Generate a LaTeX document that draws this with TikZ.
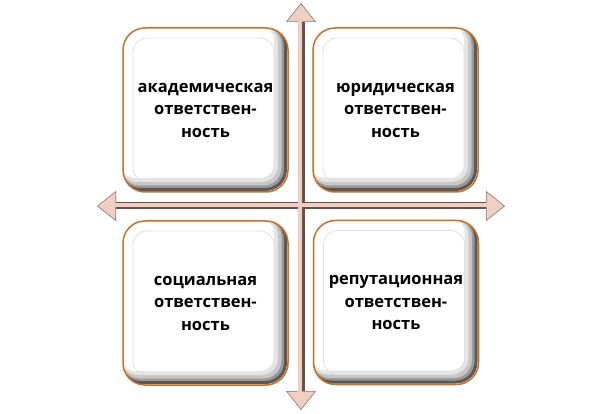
\documentclass[tikz,border=0pt]{standalone}
\usepackage{fontspec}
\setmainfont{Open Sans}
\usetikzlibrary{arrows.meta,positioning}
\definecolor{axislight}{HTML}{EFCFC4}
\definecolor{axisdark}{HTML}{6E4F45}
\definecolor{boxedge}{HTML}{C8702A}
\begin{document}
\begin{tikzpicture}[x=1pt,y=-1pt]
\tikzstyle{axis}=[axisdark, line width=7pt,
  {Triangle[width=30pt,length=19pt,fill=axislight,color=axisdark!80,line width=0.6pt]}-{Triangle[width=30pt,length=19pt,fill=axislight,color=axisdark!80,line width=0.6pt]}]
\tikzstyle{axisglow}=[axislight, line width=4pt, shorten <=18pt, shorten >=18pt]
\tikzstyle{card}=[draw=boxedge, line width=1.5pt, fill=white, rounded corners=22pt,
  minimum width=165pt, minimum height=164pt, text width=150pt, align=center,
  font=\bfseries\fontsize{16.5}{22.5}\selectfont,
  path picture={
    \foreach \s/\w/\c in {8/12/10,6/8/22,4/5/40,2.5/3/65}{
      \draw[black!\c, line width=\w pt, rounded corners=20pt]
        ([xshift=-\s pt,yshift=\s pt]path picture bounding box.south west) rectangle
        ([xshift=-\s pt,yshift=\s pt]path picture bounding box.north east);
    }
    \draw[black!12, line width=0.8pt, rounded corners=14pt]
      ([xshift=10pt,yshift=10pt]path picture bounding box.south west) rectangle
      ([xshift=-14pt,yshift=-10pt]path picture bounding box.north east);
  }]
\useasboundingbox (0,0) rectangle (603,414);

 % axes
 \coordinate (top) at (301,3);
 \coordinate (bottom) at (301,410);
 \coordinate (left) at (97,206);
 \coordinate (right) at (505,206);
 \draw[axis] (top) -- (bottom);
 \draw[axis] (left) -- (right);
 \draw[axisglow] ([xshift=-1.2pt]top) -- ([xshift=-1.2pt]bottom);
 \draw[axisglow] ([yshift=1.2pt]left) -- ([yshift=1.2pt]right);

 % quadrants
 \node[card] (academic) at (205.5,110) {академическая\\ответствен-\\ность};
 \node[card] (legal) at (395.5,110) {юридическая\\ответствен-\\ность};
 \node[card] (social) at (205.5,303) {социальная\\ответствен-\\ность};
 \node[card] (reputation) at (396,302.5) {репутационная\\ответствен-\\ность};
\end{tikzpicture}
\end{document}
